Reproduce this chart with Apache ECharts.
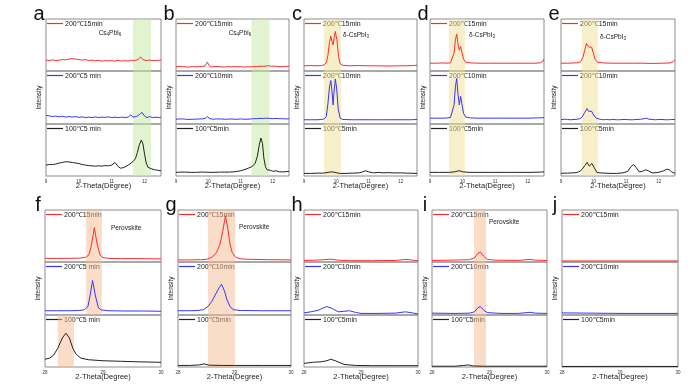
<!DOCTYPE html>
<html><head><meta charset="utf-8">
<script src="https://cdn.jsdelivr.net/npm/echarts@6/dist/echarts.min.js"></script>
<style>html,body{margin:0;padding:0;background:#fff}#c{width:700px;height:389px}</style>
</head><body><div id="c"></div>
<script>
// ---------- DATA ----------
const ticksTop = [9, 10, 11, 12];
const ticksBottom = [28, 29, 30];
const legendA = ['200℃15min', '200℃5 min', '100℃5 min'];
const legendB = ['200℃15min', '200℃10min', '100℃5min'];
const legendF = ['200℃15min', '200℃5 min', '100℃5 min'];

const aRed = [[9,21],[9.1,20],[9.2,21.5],[9.3,20],[9.4,21],[9.5,22],[9.6,21.5],[9.7,23],[9.8,24],[9.9,23],[10,22],[10.1,21],[10.2,22],[10.3,20],[10.4,21],[10.5,19.5],[10.6,20.5],[10.7,19],[10.8,20],[10.9,19.5],[11,20],[11.1,19],[11.2,20.5],[11.3,19],[11.4,20],[11.5,19],[11.6,21],[11.7,20],[11.8,22],[11.88,27],[11.95,22],[12.05,20],[12.15,21],[12.3,20],[12.4,20.5],[12.5,21]];
const aBlue = [[9,16],[9.05,14],[9.1,15.5],[9.2,14],[9.3,15],[9.4,13.5],[9.5,14.5],[9.6,13],[9.7,14],[9.8,13],[9.9,14],[10,12.5],[10.1,13.5],[10.2,12],[10.3,13],[10.4,12],[10.5,13.5],[10.6,12],[10.7,13],[10.8,12.5],[10.9,13.5],[11,12],[11.1,13],[11.2,12],[11.3,13],[11.4,12],[11.5,13],[11.58,17],[11.65,13],[11.75,14],[11.85,18],[11.92,22],[12,15],[12.07,12],[12.15,14],[12.25,12],[12.35,13],[12.45,12],[12.5,13]];
const aBlack = [[9,21],[9.1,22],[9.2,22],[9.3,23],[9.4,25],[9.5,26],[9.6,27.5],[9.7,27],[9.8,26],[9.9,25],[10,24],[10.1,22],[10.2,21],[10.3,20],[10.4,19.5],[10.5,19],[10.6,19.5],[10.7,19],[10.8,20],[10.9,19.5],[11,21],[11.05,23],[11.1,26],[11.15,23],[11.2,18],[11.27,15],[11.35,16],[11.45,19],[11.55,23],[11.65,28],[11.72,33],[11.78,45],[11.84,60],[11.9,69],[11.95,62],[12.0,42],[12.05,25],[12.1,17],[12.2,14],[12.3,12],[12.4,11],[12.5,10]];

const bRed = [[9,8],[9.1,9],[9.2,8.5],[9.3,8],[9.4,7.5],[9.5,8.5],[9.6,8],[9.7,8.5],[9.8,8.5],[9.9,10],[9.97,17],[10.03,10],[10.1,8],[10.2,8.5],[10.3,8.5],[10.4,8],[10.5,7.5],[10.6,8.5],[10.7,8],[10.8,8.5],[10.9,8],[11,8.5],[11.1,7.5],[11.2,8],[11.3,8],[11.4,8.5],[11.5,8.5],[11.6,9],[11.7,9],[11.8,9.5],[11.87,10.5],[11.95,9],[12.05,9.5],[12.15,8.5],[12.3,8.5],[12.4,9],[12.5,9]];
const bBlue = [[9,9],[9.1,9.5],[9.2,9.5],[9.3,9],[9.4,8.5],[9.5,9],[9.6,9],[9.7,9.5],[9.8,9.5],[9.9,10.5],[9.97,14],[10.05,10],[10.15,9],[10.25,9.5],[10.4,9.5],[10.5,9],[10.6,9],[10.7,9.5],[10.8,9],[10.9,9],[11,9.5],[11.1,9],[11.2,9],[11.3,9.5],[11.4,10],[11.5,10],[11.6,10.5],[11.7,10.5],[11.8,11],[11.9,10.5],[12,10],[12.1,10.5],[12.2,10],[12.3,10],[12.4,9.5],[12.5,10]];
const bBlack = [[9,7],[9.15,7.5],[9.3,7.5],[9.45,7],[9.6,7],[9.75,7.5],[9.9,7.5],[10.05,7],[10.2,7],[10.35,7.5],[10.5,7.5],[10.65,7.5],[10.8,8],[10.9,9],[11.0,10],[11.1,12],[11.2,14],[11.35,18],[11.45,24],[11.52,38],[11.58,60],[11.63,73],[11.68,62],[11.72,35],[11.77,18],[11.82,12],[11.88,13],[11.92,11],[12,9],[12.1,10],[12.2,8],[12.35,8],[12.5,9]];

const cRed = [[9,10],[9.2,10.5],[9.4,10],[9.55,10.5],[9.63,12],[9.69,16],[9.74,30],[9.79,55],[9.83,67],[9.87,56],[9.9,50],[9.93,62],[9.97,76],[10.02,60],[10.07,28],[10.12,14],[10.2,11],[10.4,10],[10.7,10.5],[11,10],[11.3,10],[11.6,9.5],[11.9,10],[12.2,10],[12.4,10.5],[12.5,11]];
const cBlue = [[9,8],[9.2,8],[9.4,8],[9.55,8.5],[9.63,10],[9.69,14],[9.74,38],[9.79,70],[9.83,82],[9.87,60],[9.9,36],[9.93,60],[9.97,85],[10.01,68],[10.06,28],[10.12,11],[10.2,8.5],[10.5,8],[10.8,8],[11.1,8],[11.4,8],[11.7,8],[12,8],[12.3,8],[12.5,8.5]];
const cBlack = [[9,5],[9.2,5],[9.4,5.5],[9.6,5.5],[9.75,7],[9.85,8],[9.95,7],[10.1,5],[10.3,5],[10.5,5.5],[10.7,6],[10.82,8],[10.9,10],[11.0,8],[11.15,6],[11.3,7],[11.45,6],[11.6,6.5],[11.75,6],[12,6],[12.2,5.5],[12.5,5]];

const dRed = [[9,15],[9.2,15],[9.4,15.5],[9.55,15],[9.63,16],[9.69,19],[9.74,35],[9.78,60],[9.82,71],[9.86,52],[9.9,40],[9.94,47],[9.98,36],[10.03,23],[10.1,17],[10.25,15.5],[10.5,15],[10.8,15],[11.1,15],[11.4,15],[11.7,15],[12.0,15],[12.25,15],[12.4,16],[12.47,19],[12.5,23]];
const dBlue = [[9,11],[9.2,11],[9.4,11],[9.55,11.5],[9.63,12.5],[9.69,16],[9.74,36],[9.78,70],[9.82,86],[9.86,56],[9.9,36],[9.94,52],[9.98,38],[10.03,20],[10.1,13],[10.25,11.5],[10.5,11],[10.8,11],[11.1,11],[11.4,11],[11.7,11],[12,11],[12.3,11.5],[12.5,12]];
const dBlack = [[9,7],[9.3,7],[9.6,7],[9.75,8],[9.85,9.5],[9.92,10],[10,8],[10.2,7],[10.5,7],[10.9,7],[11.3,7],[11.7,7],[12.1,7],[12.4,7.5],[12.5,8]];

const eRed = [[9,15],[9.2,15],[9.4,15.5],[9.52,16],[9.6,18],[9.67,26],[9.73,40],[9.78,53],[9.81,56],[9.85,46],[9.89,43],[9.94,46],[9.99,35],[10.05,22],[10.12,17],[10.3,15.5],[10.6,15],[10.9,15],[11.2,15],[11.5,15],[11.8,14.5],[12.1,15],[12.35,15.5],[12.45,18],[12.5,22]];
const eBlue = [[9,8],[9.1,9],[9.2,8.5],[9.3,8],[9.4,8.5],[9.5,9],[9.58,10],[9.65,13],[9.73,22],[9.8,29],[9.85,24],[9.89,22],[9.94,24],[10,17],[10.08,11],[10.2,9],[10.3,8],[10.4,8.5],[10.5,8],[10.6,8.5],[10.7,8],[10.8,8],[10.9,8.5],[11,8.5],[11.1,8],[11.2,8],[11.3,8.5],[11.45,9],[11.55,10],[11.62,11],[11.7,9],[11.8,8.5],[11.9,8],[12,8.5],[12.1,8.5],[12.2,8],[12.3,8],[12.4,8.5],[12.5,8.5]];
const eBlack = [[9,5],[9.1,5.5],[9.2,5.5],[9.3,6],[9.4,6],[9.5,7],[9.58,9],[9.65,13],[9.73,20],[9.8,26],[9.87,19],[9.95,24],[10.02,16],[10.1,7],[10.2,6],[10.35,5.5],[10.5,5],[10.7,5],[10.9,6],[11.05,9],[11.15,18],[11.23,22],[11.3,17],[11.4,8],[11.5,9],[11.6,12],[11.68,10],[11.8,6],[11.95,6.5],[12.05,8],[12.15,10],[12.25,13],[12.32,12],[12.4,8],[12.5,5]];

const fRed = [[28,7],[28.2,7],[28.4,7],[28.6,7.5],[28.7,9],[28.76,14],[28.8,32],[28.85,66],[28.9,34],[28.95,13],[29.0,8.5],[29.1,7],[29.3,6.5],[29.6,6.5],[30,6]];
const fBlue = [[28,8],[28.2,8],[28.4,8],[28.6,8.5],[28.68,10],[28.74,16],[28.78,38],[28.82,65],[28.87,36],[28.92,14],[28.97,9.5],[29.1,8],[29.4,7.5],[29.7,7.5],[30,7]];
const fBlack = [[28,15],[28.08,17],[28.15,23],[28.22,36],[28.3,56],[28.36,65],[28.42,56],[28.48,36],[28.54,24],[28.62,17],[28.75,14],[29,12],[29.3,11],[29.6,10],[30,9]];

const gRed = [[28,4],[28.2,4],[28.4,4.5],[28.5,5],[28.6,9],[28.68,18],[28.74,33],[28.79,58],[28.84,89],[28.88,65],[28.92,35],[28.96,18],[29.02,9],[29.1,6],[29.3,5],[29.6,4.5],[30,4]];
const gBlue = [[28,8],[28.2,8],[28.35,8.5],[28.45,10],[28.53,16],[28.6,26],[28.67,40],[28.73,52],[28.77,58],[28.82,46],[28.87,28],[28.92,16],[28.98,10],[29.1,8.5],[29.5,8],[30,8]];
const gBlack = [[28,3],[28.2,3],[28.38,4],[28.46,6],[28.55,3.5],[28.8,3],[29,3],[29.5,3],[30,3]];

const hRed = [[28,3],[28.2,3.5],[28.35,4.5],[28.46,5.5],[28.6,3.5],[28.8,2.5],[29.2,2.5],[29.6,3],[29.8,5],[29.95,3],[30,3]];
const hBlue = [[28,4],[28.12,6],[28.25,9],[28.33,13],[28.4,16],[28.5,12],[28.6,6],[28.7,7],[28.8,8],[28.9,5],[29.0,3],[29.3,3],[29.6,3.5],[29.78,6],[29.9,4],[30,2]];
const hBlack = [[28,7],[28.15,9],[28.3,10],[28.4,12],[28.47,15],[28.55,12],[28.7,5],[28.9,3],[29.2,2.5],[29.6,2.5],[30,2.5]];

const iRed = [[28,3],[28.3,3.5],[28.5,4],[28.65,4.5],[28.74,8],[28.8,17],[28.84,19],[28.9,11],[28.96,5],[29.1,3.5],[29.5,3],[29.7,5],[29.8,3.5],[30,3]];
const iBlue = [[28,3.5],[28.4,3],[28.65,3.5],[28.74,6],[28.8,14],[28.84,16],[28.9,9],[28.96,4.5],[29.2,3],[29.5,3],[29.7,5],[29.8,3.5],[30,3]];
const iBlack = [[28,1.5],[28.4,1.5],[28.55,3],[28.63,4],[28.72,2],[28.9,1.5],[29.5,1.5],[30,1.5]];

const jRed = [[28,2],[29,2],[30,2]];
const jBlue = [[28,4],[28.5,3.5],[29,3],[30,3]];
const jBlack = [[28,1],[29,1.2],[30,1]];

const bandA = [11.65, 12.2];
const bandB = [11.34, 11.9];
const bandC = [9.62, 10.15];
const bandD = [9.58, 10.07];
const bandE = [9.64, 10.13];
const bandF = [28.71, 28.98];
const bandF3 = [28.22, 28.5];
const bandG = [28.53, 29.01];
const bandI = [28.73, 28.94];

// ---------- LAYOUT ----------
const rowTop = [19, 71, 124, 176];
const rowBot = [210, 262, 315, 367];
const GREEN = 'rgba(196,234,160,0.5)', YELLOW = 'rgba(240,224,150,0.5)', ORANGE = 'rgba(245,188,148,0.5)';
const COLORS = ['#ff2b2b', '#3535ff', '#222222'];

const panels = [
  {id:'a', left:46, width:115, rows:rowTop, xr:[9,12.5], ticks:ticksTop, data:[aRed,aBlue,aBlack], legend:legendA, bands:[bandA,bandA,bandA], bc:GREEN, label:'cs', lx:64, ly:14},
  {id:'b', left:176, width:113, rows:rowTop, xr:[9,12.5], ticks:ticksTop, data:[bRed,bBlue,bBlack], legend:legendB, bands:[bandB,bandB,bandB], bc:GREEN, label:'cs', lx:64, ly:14},
  {id:'c', left:304, width:113, rows:rowTop, xr:[9,12.5], ticks:ticksTop, data:[cRed,cBlue,cBlack], legend:legendB, bands:[bandC,bandC,bandC], bc:YELLOW, label:'d', lx:52, ly:16},
  {id:'d', left:430, width:114, rows:rowTop, xr:[9,12.5], ticks:ticksTop, data:[dRed,dBlue,dBlack], legend:legendB, bands:[bandD,bandD,bandD], bc:YELLOW, label:'d', lx:52, ly:16},
  {id:'e', left:561, width:114, rows:rowTop, xr:[9,12.5], ticks:ticksTop, data:[eRed,eBlue,eBlack], legend:legendB, bands:[bandE,bandE,bandE], bc:YELLOW, label:'d', lx:52, ly:18},
  {id:'f', left:45, width:116, rows:rowBot, xr:[28,30], ticks:ticksBottom, data:[fRed,fBlue,fBlack], legend:legendF, bands:[bandF,bandF,bandF3], bc:ORANGE, label:'p', lx:66, ly:18},
  {id:'g', left:178, width:113, rows:rowBot, xr:[28,30], ticks:ticksBottom, data:[gRed,gBlue,gBlack], legend:legendB, bands:[bandG,bandG,bandG], bc:ORANGE, label:'p', lx:61, ly:17},
  {id:'h', left:304, width:114, rows:rowBot, xr:[28,30], ticks:ticksBottom, data:[hRed,hBlue,hBlack], legend:legendB, bands:[null,null,null], bc:ORANGE, label:null},
  {id:'i', left:432, width:115, rows:rowBot, xr:[28,30], ticks:ticksBottom, data:[iRed,iBlue,iBlack], legend:legendB, bands:[bandI,bandI,bandI], bc:ORANGE, label:'p', lx:57, ly:12},
  {id:'j', left:562, width:116, rows:rowBot, xr:[28,30], ticks:ticksBottom, data:[jRed,jBlue,jBlack], legend:legendB, bands:[null,null,null], bc:ORANGE, label:null}
];

const grids = [], xAxes = [], yAxes = [], series = [], graphics = [];
const FONT = 'Arial, "Liberation Sans", sans-serif';
let gi = 0;
panels.forEach(p => {
  for (let k = 0; k < 3; k++) {
    const top = p.rows[k], h = p.rows[k+1] - p.rows[k];
    grids.push({left:p.left, top:top, width:p.width, height:h, show:true, borderColor:'#8c8c8c', borderWidth:1, backgroundColor:'transparent'});
    xAxes.push({type:'value', gridIndex:gi, min:p.xr[0], max:p.xr[1], interval:1,
      axisLine:{show:false}, axisTick:{show:false}, splitLine:{show:false},
      axisLabel:{show:k===2, fontSize:4.5, color:'#333', margin:3, fontFamily:FONT,
        formatter: v => p.ticks.indexOf(v) >= 0 ? String(v) : ''}});
    yAxes.push({type:'value', gridIndex:gi, min:0, max:100, show:false});
    series.push({type:'line', xAxisIndex:gi, yAxisIndex:gi, data:p.data[k], showSymbol:false,
      lineStyle:{width:1, color:COLORS[k]}, itemStyle:{color:COLORS[k]}, z:2, animation:false});
    if (p.bands[k]) {
      series.push({type:'line', xAxisIndex:gi, yAxisIndex:gi, data:[], z:5, animation:false,
        markArea:{silent:true, itemStyle:{color:p.bc}, data:[[{xAxis:p.bands[k][0]},{xAxis:p.bands[k][1]}]]}});
    }
    // legend line + text
    graphics.push({type:'line', z:0, shape:{x1:p.left+1, y1:top+4.5, x2:p.left+17, y2:top+4.5}, style:{stroke:COLORS[k], lineWidth:1.2}});
    graphics.push({type:'text', z:0, x:p.left+19, y:top+5, style:{text:p.legend[k], font:'7px '+FONT, fill:'#222', verticalAlign:'middle', align:'left'}});
    gi++;
  }
  const top = p.rows[0], bot = p.rows[3];
  graphics.push({type:'text', z:0, x:p.left-7, y:top-5, style:{text:p.id, font:'20px '+FONT, fill:'#111', verticalAlign:'middle', align:'center'}});
  graphics.push({type:'text', z:0, x:p.left-7, y:(top+bot)/2, rotation:Math.PI/2, style:{text:'Intensity', font:'6.5px '+FONT, fill:'#222', verticalAlign:'middle', align:'center'}});
  graphics.push({type:'text', z:0, x:p.left+p.width/2, y:bot+10, style:{text:'2-Theta(Degree)', font:'7.5px '+FONT, fill:'#222', verticalAlign:'middle', align:'center'}});
  if (p.label === 'cs') {
    graphics.push({type:'text', z:0, x:p.left+p.lx, y:top+p.ly, style:{text:'{a|Cs}{s|4}{a|PbI}{s|6}', align:'center', verticalAlign:'middle',
      rich:{a:{font:'6.5px '+FONT, fill:'#222', lineHeight:8, verticalAlign:'middle'}, s:{font:'4.5px '+FONT, fill:'#222', lineHeight:8, verticalAlign:'bottom', padding:[3,0,0,0]}}}});
  } else if (p.label === 'd') {
    graphics.push({type:'text', z:0, x:p.left+p.lx, y:top+p.ly, style:{text:'{a|δ-CsPbI}{s|3}', align:'center', verticalAlign:'middle',
      rich:{a:{font:'6.5px '+FONT, fill:'#222', lineHeight:8, verticalAlign:'middle'}, s:{font:'4.5px '+FONT, fill:'#222', lineHeight:8, verticalAlign:'bottom', padding:[3,0,0,0]}}}});
  } else if (p.label === 'p') {
    graphics.push({type:'text', z:0, x:p.left+p.lx, y:top+p.ly, style:{text:'Perovskite', font:'6.5px '+FONT, fill:'#222', verticalAlign:'middle', align:'left'}});
  }
});

const chart = echarts.init(document.getElementById('c'), null, {renderer:'canvas'});
chart.setOption({animation:false, backgroundColor:'#fff', grid:grids, xAxis:xAxes, yAxis:yAxes, series:series, graphic:{elements:graphics}});
</script></body></html>
